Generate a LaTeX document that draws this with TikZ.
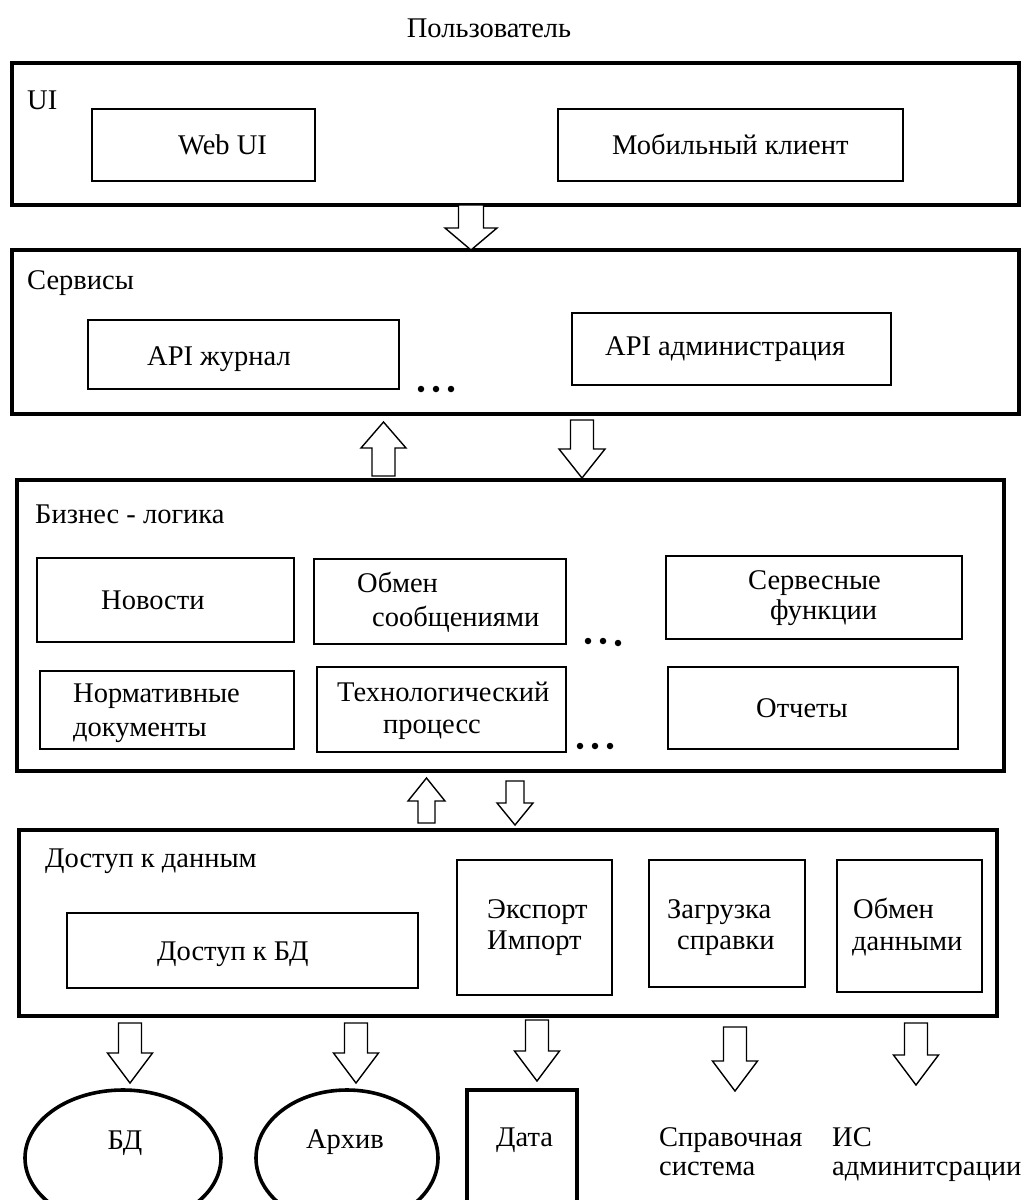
\documentclass[tikz,border=0pt]{standalone}
\usepackage{fontspec}
\setmainfont{Liberation Serif}
\usetikzlibrary{fit,shapes.geometric}

% block arrow pointing down: x, top y, tip y, shaft half-width, head half-width, head length
\newcommand\downblock[6]{%
  \draw[blockarrow] (#1-#4,#2) -- (#1+#4,#2) -- (#1+#4,#3-#6) -- (#1+#5,#3-#6)
    -- (#1,#3) -- (#1-#5,#3-#6) -- (#1-#4,#3-#6) -- cycle;}
% block arrow pointing up: x, base y, tip y, shaft half-width, head half-width, head length
\newcommand\upblock[6]{%
  \draw[blockarrow] (#1-#4,#2) -- (#1+#4,#2) -- (#1+#4,#3+#6) -- (#1+#5,#3+#6)
    -- (#1,#3) -- (#1-#5,#3+#6) -- (#1-#4,#3+#6) -- cycle;}

\begin{document}
\begin{tikzpicture}[x=1pt,y=-1pt,
  layer/.style={draw, line width=3.6pt, inner sep=0pt},
  part/.style={draw, line width=1.4pt, inner sep=0pt},
  store/.style={draw, ellipse, line width=3.6pt, inner sep=0pt},
  txt/.style={inner sep=0pt, anchor=base west, font=\fontsize{28.5}{32}\selectfont},
  blockarrow/.style={draw, line width=1.4pt, fill=white, line join=miter},
  dot/.style={fill, circle, inner sep=0pt, minimum size=6.5pt}]

\useasboundingbox (0,0) rectangle (1029,1200);
\fill[white] (0,0) rectangle (1029,1200);
\clip (0,0) rectangle (1029,1200);

% ---------- user ----------
\node[txt, anchor=base] (user) at (489,37) {Пользователь};

% ---------- UI layer ----------
\node[layer, fit={(12,63) (1019,205)}] (ui) {};
\node[txt] (uiT) at (27,109) {UI};
\node[part, fit={(92,109) (315,181)}] (web) {};
\node[txt] (webT) at (178,154) {Web UI};
\node[part, fit={(558,109) (903,181)}] (mob) {};
\node[txt] (mobT) at (612,154) {Мобильный клиент};

% ---------- services layer ----------
\node[layer, fit={(12,250) (1019,414)}] (svc) {};
\node[txt] (svcT) at (27,289) {Сервисы};
\node[part, fit={(88,320) (399,389)}] (apij) {};
\node[txt] (apijT) at (147,365) {API журнал};
\node[part, fit={(572,313) (891,385)}] (apia) {};
\node[txt] (apiaT) at (605,355) {API администрация};
\foreach \i/\x in {1/421,2/436,3/451}
  \node[dot] (sd\i) at (\x,389) {};

% ---------- business logic layer ----------
\node[layer, fit={(17,480) (1004,771)}] (biz) {};
\node[txt] (bizT) at (35,523) {Бизнес - логика};
\node[part, fit={(37,558) (294,642)}] (news) {};
\node[txt] (newsT) at (101,609) {Новости};
\node[part, fit={(314,559) (566,644)}] (msg) {};
\node[txt] (msgT1) at (357,592) {Обмен};
\node[txt] (msgT2) at (372,626) {сообщениями};
\node[part, fit={(666,556) (962,639)}] (svf) {};
\node[txt] (svfT1) at (748,589) {Сервесные};
\node[txt] (svfT2) at (770,619) {функции};
\node[part, fit={(40,671) (294,749)}] (norm) {};
\node[txt] (normT1) at (73,702) {Нормативные};
\node[txt] (normT2) at (73,736) {документы};
\node[part, fit={(317,667) (566,752)}] (tech) {};
\node[txt] (techT1) at (337,701) {Технологический};
\node[txt] (techT2) at (383,733) {процесс};
\node[part, fit={(668,667) (958,749)}] (rep) {};
\node[txt] (repT) at (756,717) {Отчеты};
\node[dot] (bd1) at (588,641) {};
\node[dot] (bd2) at (603,641) {};
\node[dot] (bd3) at (618,643) {};
\foreach \i/\x in {4/580,5/595,6/610}
  \node[dot] (bd\i) at (\x,746) {};

% ---------- data access layer ----------
\node[layer, fit={(19,830) (997,1016)}] (data) {};
\node[txt] (dataT) at (45,867) {Доступ к данным};
\node[part, fit={(67,913) (418,988)}] (dbacc) {};
\node[txt] (dbaccT) at (157,960) {Доступ к БД};
\node[part, fit={(457,860) (612,995)}] (exp) {};
\node[txt] (expT1) at (487,918) {Экспорт};
\node[txt] (expT2) at (487,949) {Импорт};
\node[part, fit={(649,860) (805,987)}] (load) {};
\node[txt] (loadT1) at (667,918) {Загрузка};
\node[txt] (loadT2) at (677,949) {справки};
\node[part, fit={(837,860) (982,992)}] (xch) {};
\node[txt] (xchT1) at (853,918) {Обмен};
\node[txt] (xchT2) at (852,950) {данными};

% ---------- external stores ----------
\node[store, minimum width=196pt, minimum height=136pt] (db) at (123,1158) {};
\node[txt, anchor=base] (dbT) at (125,1149) {БД};
\node[store, minimum width=182pt, minimum height=136pt] (arch) at (347,1158) {};
\node[txt, anchor=base] (archT) at (345,1148) {Архив};
\node[layer, fit={(467,1090) (577,1240)}] (date) {};
\node[txt] (dateT) at (496,1146) {Дата};
\node[txt] (helpT1) at (659,1146) {Справочная};
\node[txt] (helpT2) at (659,1175) {система};
\node[txt] (adminT1) at (832,1146) {ИС};
\node[txt] (adminT2) at (832,1175) {админитсрации};

% ---------- flows between layers ----------
\downblock{471}{205}{250}{12.5}{26}{22}
\upblock{383.5}{476}{422}{11.5}{22.5}{26}
\downblock{582}{420}{478}{11.5}{23}{29}
\upblock{426.5}{823}{778}{8.5}{18.5}{23}
\downblock{515}{781}{825}{9}{18}{22}

\downblock{130}{1023}{1083}{11.5}{22.5}{30}
\downblock{356}{1023}{1083}{11.5}{22.5}{30}
\downblock{537}{1020}{1081}{11.5}{22.5}{30}
\downblock{735}{1027}{1091}{11.5}{22.5}{30}
\downblock{916}{1023}{1085}{11.5}{22.5}{30}
\end{tikzpicture}
\end{document}
